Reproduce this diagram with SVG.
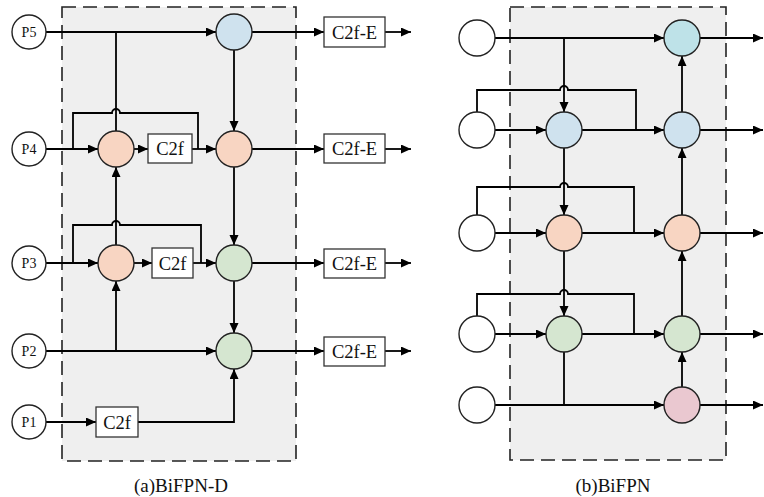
<svg xmlns="http://www.w3.org/2000/svg" width="764" height="497" viewBox="0 0 764 497">
  <defs>
    <marker id="arr" markerUnits="userSpaceOnUse" markerWidth="11" markerHeight="10" refX="10" refY="4.5" orient="auto">
      <path d="M0,0 L10,4.5 L0,9 z" fill="#000"/>
    </marker>
    <style>
      .panel { fill: #efefef; stroke: #222; stroke-width: 1.6; stroke-dasharray: 14 7; }
      .io { fill: #fff; stroke: #222; stroke-width: 1.4; }
      .n { stroke: #222; stroke-width: 1.4; }
      .blue { fill: #cfe2ee; }
      .teal { fill: #bee2e8; }
      .orange { fill: #f8d5c2; }
      .green { fill: #d5e6d0; }
      .pink { fill: #eac8d0; }
      .box { fill: #fff; stroke: #333; stroke-width: 1.3; }
      text { fill: #111; text-anchor: middle; }
      .small { font-size: 14px; }
      .mid { font-size: 18.5px; }
      .cap { font-size: 19px; }
      #connectors path { fill: none; stroke: #000; stroke-width: 1.8; }
      .a { marker-end: url(#arr); }
    </style>
  </defs>

  <!-- panel backgrounds -->
  <rect class="panel" x="62" y="7" width="234" height="454"/>
  <rect class="panel" x="510" y="7" width="216" height="453"/>

  <!-- connectors -->
  <g id="connectors">
    <!-- (a) BiFPN-D -->
    <path class="a" d="M46,32 H216"/>
    <path d="M116,32 V131"/>
    <path class="a" d="M46,149 H98"/>
    <path d="M73,149 V113 H112 A4,4 0 0 1 120,113 H198 V149"/>
    <path class="a" d="M134,149 H148"/>
    <path class="a" d="M192,149 H216"/>
    <path class="a" d="M234,50 V131"/>
    <path class="a" d="M234,167 V245"/>
    <path class="a" d="M234,281 V333"/>
    <path class="a" d="M46,263 H98"/>
    <path d="M73,263 V225 H112 A4,4 0 0 1 120,225 H201 V263"/>
    <path class="a" d="M134,263 H152"/>
    <path class="a" d="M193,263 H216"/>
    <path class="a" d="M116,245 V167"/>
    <path class="a" d="M46,351 H216"/>
    <path class="a" d="M116,351 V281"/>
    <path class="a" d="M46,422 H96"/>
    <path class="a" d="M138,422 H234 V369"/>
    <path class="a" d="M252,32 H324"/>
    <path class="a" d="M252,149 H324"/>
    <path class="a" d="M252,263 H324"/>
    <path class="a" d="M252,351 H324"/>
    <path class="a" d="M385,32 H411"/>
    <path class="a" d="M385,149 H411"/>
    <path class="a" d="M385,263 H411"/>
    <path class="a" d="M385,351 H411"/>

    <!-- (b) BiFPN -->
    <path class="a" d="M495,38 H664"/>
    <path class="a" d="M564,38 V112"/>
    <path d="M477,112 V90 H560 A4,4 0 0 1 568,90 H636 V130"/>
    <path class="a" d="M495,130 H546"/>
    <path class="a" d="M582,130 H664"/>
    <path class="a" d="M682,112 V56"/>
    <path d="M477,215 V187 H560 A4,4 0 0 1 568,187 H634 V233"/>
    <path class="a" d="M495,233 H546"/>
    <path class="a" d="M582,233 H664"/>
    <path class="a" d="M564,148 V215"/>
    <path class="a" d="M682,215 V148"/>
    <path d="M477,316 V294 H560 A4,4 0 0 1 568,294 H634 V334"/>
    <path class="a" d="M495,334 H546"/>
    <path class="a" d="M582,334 H664"/>
    <path class="a" d="M564,251 V316"/>
    <path class="a" d="M682,316 V251"/>
    <path class="a" d="M495,405 H664"/>
    <path d="M564,352 V405"/>
    <path class="a" d="M682,387 V352"/>
    <path class="a" d="M700,38 H763"/>
    <path class="a" d="M700,130 H763"/>
    <path class="a" d="M700,233 H763"/>
    <path class="a" d="M700,334 H763"/>
    <path class="a" d="M700,405 H763"/>
  </g>

  <g font-family="'Liberation Serif', 'DejaVu Serif', serif">
    <!-- (a) inputs -->
    <g id="p5"><circle class="io" cx="29" cy="32" r="17"/><text class="small" x="29" y="37">P5</text></g>
    <g id="p4"><circle class="io" cx="29" cy="149" r="17"/><text class="small" x="29" y="154">P4</text></g>
    <g id="p3"><circle class="io" cx="29" cy="263" r="17"/><text class="small" x="29" y="268">P3</text></g>
    <g id="p2"><circle class="io" cx="29" cy="351" r="17"/><text class="small" x="29" y="356">P2</text></g>
    <g id="p1"><circle class="io" cx="29" cy="422" r="17"/><text class="small" x="29" y="427">P1</text></g>

    <!-- (a) fusion nodes -->
    <g id="a-top"><circle class="n blue" cx="234" cy="32" r="18"/></g>
    <g id="a-l4"><circle class="n orange" cx="116" cy="149" r="18"/></g>
    <g id="a-r4"><circle class="n orange" cx="234" cy="149" r="18"/></g>
    <g id="a-l3"><circle class="n orange" cx="116" cy="263" r="18"/></g>
    <g id="a-r3"><circle class="n green" cx="234" cy="263" r="18"/></g>
    <g id="a-r2"><circle class="n green" cx="234" cy="351" r="18"/></g>

    <!-- (a) C2f blocks -->
    <g id="c2f-4"><rect class="box" x="148" y="134" width="44" height="29"/><text class="mid" x="170" y="155">C2f</text></g>
    <g id="c2f-3"><rect class="box" x="152" y="248" width="41" height="30"/><text class="mid" x="172.5" y="269.5">C2f</text></g>
    <g id="c2f-1"><rect class="box" x="96" y="407" width="42" height="30"/><text class="mid" x="117" y="428.5">C2f</text></g>

    <!-- (a) C2f-E outputs -->
    <g id="e1"><rect class="box" x="324" y="17" width="61" height="30"/><text class="mid" x="354.5" y="38.5">C2f-E</text></g>
    <g id="e2"><rect class="box" x="324" y="134" width="61" height="29"/><text class="mid" x="354.5" y="155">C2f-E</text></g>
    <g id="e3"><rect class="box" x="324" y="249" width="61" height="29"/><text class="mid" x="354.5" y="270">C2f-E</text></g>
    <g id="e4"><rect class="box" x="324" y="337" width="61" height="29"/><text class="mid" x="354.5" y="358">C2f-E</text></g>

    <!-- (b) inputs -->
    <g id="b-in1"><circle class="io" cx="477" cy="38" r="18"/></g>
    <g id="b-in2"><circle class="io" cx="477" cy="130" r="18"/></g>
    <g id="b-in3"><circle class="io" cx="477" cy="233" r="18"/></g>
    <g id="b-in4"><circle class="io" cx="477" cy="334" r="18"/></g>
    <g id="b-in5"><circle class="io" cx="477" cy="405" r="18"/></g>

    <!-- (b) fusion nodes -->
    <g id="b-r1"><circle class="n teal" cx="682" cy="38" r="18"/></g>
    <g id="b-l2"><circle class="n blue" cx="564" cy="130" r="18"/></g>
    <g id="b-r2"><circle class="n blue" cx="682" cy="130" r="18"/></g>
    <g id="b-l3"><circle class="n orange" cx="564" cy="233" r="18"/></g>
    <g id="b-r3"><circle class="n orange" cx="682" cy="233" r="18"/></g>
    <g id="b-l4"><circle class="n green" cx="564" cy="334" r="18"/></g>
    <g id="b-r4"><circle class="n green" cx="682" cy="334" r="18"/></g>
    <g id="b-r5"><circle class="n pink" cx="682" cy="405" r="18"/></g>

    <!-- captions -->
    <text class="cap" x="181" y="492">(a)BiFPN-D</text>
    <text class="cap" x="613" y="492">(b)BiFPN</text>
  </g>
</svg>
